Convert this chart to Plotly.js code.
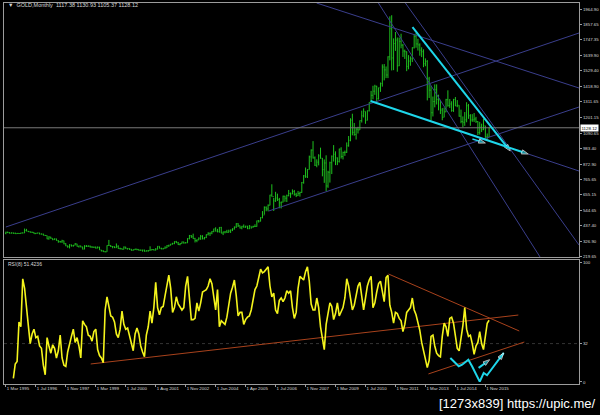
<!DOCTYPE html>
<html><head><meta charset="utf-8">
<script src="https://cdn.plot.ly/plotly-3.0.1.min.js"></script>
<style>html,body{margin:0;padding:0;background:#000;}#chart{width:600px;height:415px;}</style>
</head><body><div id="chart"></div>
<script>
// ---------- data ----------
const dateLabels = ["1 Mar 1995","1 Jul 1996","1 Nov 1997","1 Mar 1999","1 Jul 2000","1 Aug 2001","1 Nov 2002","1 Jan 2004","1 Apr 2005","1 Jul 2006","1 Nov 2007","1 Mar 2009","1 Jul 2010","1 Nov 2011","1 Mar 2013","1 Jul 2014","1 Nov 2015"];
const barsPerLabel = 16;
const priceTicks = [1964.90,1857.65,1747.35,1639.90,1529.40,1418.90,1311.65,1201.15,1090.65,983.40,872.90,765.65,655.15,544.65,437.40,326.90,219.65];
const rsiTicks = [0, 32, 100];
const rsiLevel = 32;
const headerValues = [1117.38, 1130.93, 1105.37, 1128.12];
const rsiLabelValue = 51.4236;

const closePrice = [
392,389,385,387,384,382,384,383,387,387,
405,400,396,392,391,382,385,387,379,379,371,369,
345,358,349,340,345,334,326,325,332,311,296,290,
303,297,301,310,293,296,288,273,294,292,294,288,
287,287,280,286,268,261,255,254,299,299,292,290,
283,293,278,276,272,288,276,278,273,264,269,273,
271,265,266,267,258,261,264,267,270,266,273,293,279,275,279,
282,297,301,309,312,326,318,305,312,324,316,317,347,
368,360,347,334,338,350,364,346,354,375,385,386,398,416,
400,396,426,386,394,395,391,400,408,415,428,452,438,
422,434,428,435,417,435,429,432,433,473,470,495,513,
568,556,582,654,643,613,633,623,599,604,646,632,
650,665,662,679,659,650,665,672,743,789,783,834,
923,971,916,864,886,930,914,833,880,718,815,882,
928,942,916,891,978,926,954,955,1001,1040,1182,1096,
1081,1118,1113,1179,1212,1244,1181,1248,1307,1357,1386,1421,
1333,1410,1439,1556,1536,1500,1628,1826,1620,1722,1746,1564,
1737,1710,1669,1664,1561,1598,1614,1692,1773,1719,1712,1675,
1664,1579,1596,1472,1393,1234,1313,1396,1327,1323,1253,1202,
1240,1326,1284,1296,1250,1327,1282,1287,1210,1172,1167,1184,
1283,1213,1183,1184,1190,1172,1095,1133,1115,1142,1065,1061,
1128.12];
const highPrice = [
396,396,393,391,390,390,387,386,389,390,
418,416,401,398,396,392,388,389,388,383,382,373,
369,365,360,349,349,347,336,331,339,333,315,298,
308,305,302,316,311,297,297,290,301,302,300,298,
293,290,291,292,290,267,265,259,300,338,301,294,
292,313,300,283,278,292,289,279,278,274,271,276,
275,272,270,268,269,265,266,293,274,272,280,294,293,283,280,
293,301,304,310,318,328,331,324,316,326,325,323,350,
373,372,382,353,342,356,373,371,359,377,392,390,400,417,
427,416,428,430,397,399,409,410,411,420,433,456,456,
439,437,447,438,437,443,432,438,448,474,478,498,541,
574,574,588,656,730,634,677,664,634,608,650,649,
657,690,672,694,690,670,683,678,746,795,848,836,
932,976,1034,926,906,942,988,915,905,934,825,889,
933,1006,962,919,981,991,960,967,1025,1070,1195,1227,
1162,1128,1135,1180,1249,1265,1243,1250,1308,1388,1424,1431,
1424,1411,1447,1575,1577,1560,1632,1913,1921,1758,1803,1764,
1764,1791,1719,1679,1666,1640,1631,1695,1788,1796,1755,1723,
1695,1681,1617,1605,1487,1424,1348,1434,1434,1361,1321,1267,
1270,1332,1392,1331,1315,1332,1345,1323,1287,1256,1208,1239,
1308,1296,1224,1224,1232,1205,1175,1170,1157,1191,1142,1088,
1130.93];
const lowPrice = [
378,386,383,384,382,381,381,381,382,385,
387,399,394,390,389,381,380,385,378,377,370,366,
343,340,346,336,339,333,318,319,317,307,294,283,
278,291,290,300,291,284,286,271,272,288,290,285,
283,282,277,280,268,257,253,251,254,296,288,279,
281,282,276,271,270,271,275,270,268,263,263,267,
265,262,262,255,255,257,255,263,265,264,264,271,278,272,271,
277,281,289,299,305,308,316,302,300,311,312,315,317,
342,352,345,320,322,336,338,342,341,351,370,366,378,392,
397,391,389,385,372,384,388,390,387,400,411,423,429,
418,413,424,423,414,414,417,424,429,431,460,468,490,
516,540,540,581,643,542,606,612,561,560,602,607,
605,645,634,660,650,640,648,643,670,734,775,774,
834,887,911,859,850,863,910,786,740,681,705,742,
802,890,865,865,883,911,905,930,951,995,1033,1075,
1072,1045,1088,1113,1165,1201,1156,1180,1243,1313,1329,1360,
1308,1327,1381,1418,1462,1478,1478,1603,1532,1534,1670,1523,
1563,1688,1627,1613,1527,1540,1565,1591,1687,1692,1672,1636,
1626,1555,1562,1321,1338,1180,1208,1272,1292,1251,1225,1181,
1202,1238,1277,1268,1241,1240,1281,1273,1206,1160,1131,1142,
1167,1191,1142,1170,1169,1162,1077,1080,1098,1111,1052,1046,
1062];
const firstOpen = 383;

const rsiStartBar = 4;
const rsiValues = [
3,15,17,50,46,86,78,60,47,32,
40,44,37,38,30,28,14,6,37,30,
24,31,28,20,26,39,20,14,13,25,
33,38,44,33,37,30,20,51,48,46,
39,38,34,42,44,27,22,20,16,60,
71,62,55,54,50,40,37,44,59,48,
44,45,38,31,26,40,45,40,30,25,
21,39,46,59,49,62,83,62,56,62,
63,72,81,89,78,58,62,71,65,62,
60,62,80,88,67,52,52,53,66,59,
66,75,76,77,80,86,82,70,60,77,
46,51,49,48,54,65,74,79,85,72,
55,58,58,48,52,54,55,60,70,77,
80,87,94,91,92,94,96,80,71,74,
60,57,68,70,67,70,76,74,76,62,
53,58,78,88,86,85,92,96,84,65,
60,60,70,62,46,38,27,48,57,66,
63,52,57,66,55,58,62,70,86,80,
70,60,64,73,80,83,72,60,70,80,
85,88,62,66,75,82,84,76,67,87,
89,64,58,49,58,57,53,51,42,48,
58,60,62,70,60,56,49,43,33,27,
19,12,18,38,39,30,24,22,21,38,
49,46,38,53,54,49,37,28,26,35,
47,62,44,38,39,32,23,30,33,42,
32,27,40,49,51.42];

// drawn objects on the chart: [bar, value] points
const channelUpper = [[0, 428.9], [306, 1795.8]];
const channelLower = [[140.3, 541.6], [306, 1274.4]];
const fanLine = [[165.9, 2007], [306, 1408.3]];
const steepLineA = [[213.3, 2007], [306, 302.1]];
const steepLineB = [[198.9, 2007], [285.3, 215.4]];
const cyanTail = [[278.9, 943.2], [306, 823.4]];
const cyanUpper = [[217.1, 1838], [269.3, 964.4]];
const cyanLower = [[194.7, 1316.7], [278.9, 943.2]];
const cyanSmall = [[249.1, 1048.9], [256, 1020.7]];
const rsiTrendLow = [[45.3, 15], [273.6, 55.8]];
const rsiTrendHigh = [[204.3, 90], [274.1, 42.5]];
const rsiTrendRecent = [[225.6, 6.7], [276.8, 33.3]];
const rsiZigzag = [[237.3,20],[241.8,13.1],[243.6,14.4],[246.9,18.6],[248.9,13.1],[253,0.3],[255.1,7.5],[256.9,5.6],[265.8,24.2]];
const rsiSmallArrow = [[252.4, 11.7], [258.3, 18.6]];

// ---------- build ----------
const nBars = closePrice.length;
const bars = closePrice.map((_, i) => i);
const openPrice = closePrice.map((c, i) => i === 0 ? firstOpen : closePrice[i - 1]);
const rsiBars = rsiValues.map((_, i) => i + rsiStartBar);
const xRange = [-1, 306];

const GREEN = '#1fc01f', NAVY = '#3a3e8c', CYAN = '#1ed6ea', RED = '#a8421c', FRAME = '#9c9c9c', TXT = '#d8d8d8';

function seg(points, color, width, xa, ya, arrow) {
  const t = {type: 'scatter', mode: arrow ? 'lines+markers' : 'lines',
    x: points.map(p => p[0]), y: points.map(p => p[1]),
    xaxis: xa, yaxis: ya, line: {color: color, width: width}, hoverinfo: 'skip', showlegend: false};
  if (arrow) t.marker = {symbol: 'arrow', angleref: 'previous', color: color,
    size: points.map((p, i) => i === points.length - 1 ? 7 : 0)};
  return t;
}

const traces = [
  seg(channelUpper, NAVY, 1, 'x', 'y'),
  seg(channelLower, NAVY, 1, 'x', 'y'),
  seg(fanLine, NAVY, 1, 'x', 'y'),
  seg(steepLineA, NAVY, 1, 'x', 'y'),
  seg(steepLineB, NAVY, 1, 'x', 'y'),
  seg(cyanTail, NAVY, 1, 'x', 'y'),
  {type: 'scatter', mode: 'lines', x: xRange, y: [closePrice[nBars-1], closePrice[nBars-1]], xaxis: 'x', yaxis: 'y',
   line: {color: '#7a7a7a', width: 1}, hoverinfo: 'skip', showlegend: false},
  {type: 'ohlc', x: bars, open: openPrice, high: highPrice, low: lowPrice, close: closePrice,
   xaxis: 'x', yaxis: 'y', tickwidth: 0.35,
   increasing: {line: {color: GREEN, width: 1}}, decreasing: {line: {color: GREEN, width: 1}},
   hoverinfo: 'skip', showlegend: false},
  seg(cyanUpper, CYAN, 2, 'x', 'y', true),
  seg(cyanLower, CYAN, 2, 'x', 'y', true),
  seg(cyanSmall, CYAN, 1.5, 'x', 'y', true),
  {type: 'scatter', mode: 'lines', x: xRange, y: [rsiLevel, rsiLevel], xaxis: 'x2', yaxis: 'y2',
   line: {color: '#333333', width: 1, dash: 'dot'}, hoverinfo: 'skip', showlegend: false},
  seg(rsiTrendLow, RED, 1, 'x2', 'y2'),
  seg(rsiTrendHigh, RED, 1, 'x2', 'y2'),
  seg(rsiTrendRecent, RED, 1, 'x2', 'y2'),
  {type: 'scatter', mode: 'lines', x: rsiBars, y: rsiValues, xaxis: 'x2', yaxis: 'y2',
   line: {color: '#f4f41c', width: 1.6}, hoverinfo: 'skip', showlegend: false},
  seg(rsiZigzag, CYAN, 2, 'x2', 'y2', true),
  seg(rsiSmallArrow, CYAN, 2, 'x2', 'y2', true)
];

const FONT = 'Liberation Sans, DejaVu Sans, sans-serif';
const tickFont = {family: FONT, size: 4.4, color: TXT};
const axBase = {showgrid: false, zeroline: false, showline: true, linecolor: FRAME, linewidth: 1, mirror: true};

const layout = {
  width: 600, height: 415,
  margin: {l: 4, r: 21, t: 3, b: 31, pad: 0},
  paper_bgcolor: '#000', plot_bgcolor: '#000',
  showlegend: false,
  xaxis: Object.assign({}, axBase, {domain: [0, 1], anchor: 'y', range: xRange, showticklabels: false, ticks: '', rangeslider: {visible: false}}),
  yaxis: Object.assign({}, axBase, {domain: [0.3325, 1], anchor: 'x', side: 'right', range: [215.4, 2007.2],
    tickmode: 'array', tickvals: priceTicks, ticktext: priceTicks.map(v => v.toFixed(2)),
    ticks: 'outside', ticklen: 2, tickcolor: FRAME, tickfont: tickFont, ticklabelstandoff: 0}),
  xaxis2: Object.assign({}, axBase, {domain: [0, 1], anchor: 'y2', range: xRange, rangeslider: {visible: false},
    tickmode: 'array', tickvals: dateLabels.map((_, i) => i * barsPerLabel), ticktext: dateLabels,
    ticks: 'outside', ticklen: 2, tickcolor: FRAME, ticklabelposition: 'outside right', tickangle: 0,
    tickfont: {family: FONT, size: 4.4, color: TXT}}),
  yaxis2: Object.assign({}, axBase, {domain: [0, 0.3255], anchor: 'x2', side: 'right', range: [-1.7, 101.7],
    tickmode: 'array', tickvals: rsiTicks, ticktext: rsiTicks.map(String),
    ticks: 'outside', ticklen: 2, tickcolor: FRAME, tickfont: tickFont, ticklabelstandoff: 0}),
  annotations: [
    {xref: 'paper', yref: 'paper', x: 0.003, y: 0.994, xanchor: 'left', yanchor: 'middle', showarrow: false,
     text: '\u25BC  GOLD,Monthly  ' + headerValues.map(v => v.toFixed(2)).join(' '),
     font: {family: FONT, size: 5.5, color: TXT}},
    {xref: 'paper', yref: 'paper', x: 0.003, y: 0.316, xanchor: 'left', yanchor: 'middle', showarrow: false,
     text: 'RSI(8) ' + rsiLabelValue.toFixed(4),
     font: {family: FONT, size: 5, color: TXT}},
    {xref: 'paper', yref: 'y', x: 1.002, y: closePrice[nBars-1], xanchor: 'left', yanchor: 'middle', showarrow: false,
     text: closePrice[nBars-1].toFixed(2), bgcolor: '#ffffff', borderpad: 0.5,
     font: {family: FONT, size: 4.4, color: '#000'}},
    {xref: 'paper', yref: 'paper', x: 1.032, y: -0.05, xanchor: 'right', yanchor: 'middle', showarrow: false,
     text: '[1273x839] https://upic.me/',
     font: {family: 'Liberation Sans Narrow, Liberation Sans, sans-serif', size: 13, color: '#ffffff',
            shadow: '1px 1px 1px #000'}}
  ]
};

Plotly.newPlot('chart', traces, layout, {staticPlot: true, displayModeBar: false});
</script>
</body></html>
